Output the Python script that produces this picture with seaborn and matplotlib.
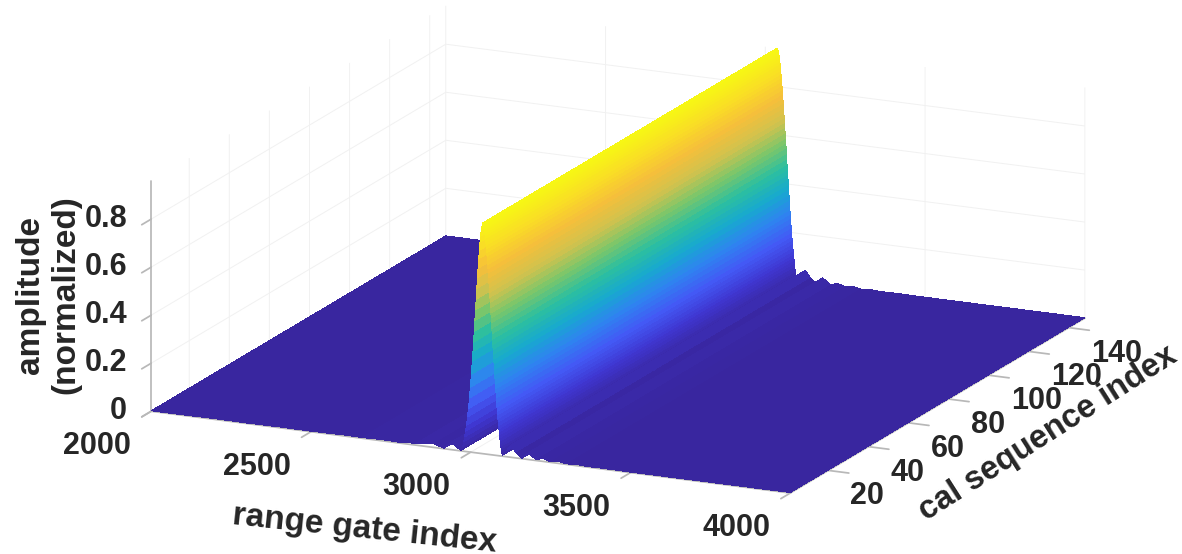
# =========================================
# Cal sequence range profile - 3D surface
# =========================================

import numpy as np
import matplotlib
matplotlib.use("Agg")
import matplotlib.pyplot as plt
from mpl_toolkits.mplot3d import proj3d
import seaborn as sns

# -----------------------------
# 1. Data
# -----------------------------
range_gates = [2000, 2100, 2200, 2300, 2400, 2500, 2600, 2660, 2720, 2780, 2830, 2885, 2916, 2938, 2969,
               2972, 2975, 2978, 2981, 2984, 2987, 2990, 2993, 2996, 2999, 3002, 3005, 3007, 3009, 3011,
               3013, 3015, 3017, 3019, 3021, 3023, 3025, 3027, 3029, 3031, 3033, 3035, 3037,
               3038, 3039, 3040, 3041, 3042, 3043, 3044, 3045, 3046, 3047, 3048, 3049, 3050, 3051,
               3052, 3053, 3054, 3055, 3056, 3057, 3058, 3059, 3060, 3061, 3062, 3063, 3064, 3065,
               3066, 3067, 3068, 3069, 3070, 3071, 3072, 3073, 3074, 3075, 3076, 3077, 3078, 3079,
               3080, 3081, 3082, 3083, 3084, 3085, 3086, 3087, 3088, 3089, 3090, 3091, 3092, 3093,
               3094, 3095, 3096, 3097, 3098, 3099, 3112, 3125, 3142, 3160, 3180, 3205, 3225, 3250,
               3275, 3300, 3330, 3360, 3400, 3500, 3600, 3800, 4000]
amplitude = [0.002, 0.002, 0.003, 0.002, 0.003, 0.002, 0.004, 0.003, 0.005, 0.003, 0.008, 0.015, 0.002, 0.03, 0.002,
             0.01, 0.02, 0.04, 0.06, 0.085, 0.11, 0.145, 0.18, 0.225, 0.27, 0.325, 0.38, 0.42, 0.46, 0.505,
             0.55, 0.595, 0.64, 0.685, 0.73, 0.77, 0.81, 0.845, 0.88, 0.905, 0.93, 0.945, 0.96,
             0.958, 0.955, 0.95, 0.945, 0.938, 0.93, 0.92, 0.91, 0.898, 0.885, 0.87, 0.855, 0.84, 0.825,
             0.808, 0.79, 0.773, 0.755, 0.735, 0.715, 0.695, 0.675, 0.655, 0.635, 0.612, 0.59, 0.57, 0.55,
             0.527, 0.505, 0.482, 0.46, 0.44, 0.42, 0.40, 0.38, 0.357, 0.335, 0.315, 0.295, 0.277, 0.26,
             0.24, 0.22, 0.202, 0.185, 0.17, 0.155, 0.14, 0.125, 0.112, 0.10, 0.087, 0.075, 0.062, 0.05,
             0.04, 0.03, 0.022, 0.015, 0.009, 0.004, 0.025, 0.05, 0.02, 0.002, 0.028, 0.002, 0.014, 0.002,
             0.008, 0.002, 0.005, 0.002, 0.003, 0.002, 0.002, 0.002, 0.002]
cal_sequence = [1, 14, 28, 42, 56, 70, 84, 98, 112, 126, 138, 148]

x_ticks = [2000, 2500, 3000, 3500, 4000]
y_ticks = [20, 40, 60, 80, 100, 120, 140]
z_ticks = [0, 0.2, 0.4, 0.6, 0.8]
z_tick_labels = ["0", "0.2", "0.4", "0.6", "0.8"]

surface_colors = ["#39269f", "#3f36d0", "#4359f5", "#2f83f0", "#17a9cf", "#2cbf9f",
                  "#7cc66a", "#d2c24d", "#f6bf3a", "#f9dd25", "#f7f714"]

# -----------------------------
# 2. Style
# -----------------------------
sns.set_theme(style="white")
plt.rcParams["font.family"] = ["Liberation Sans", "DejaVu Sans"]
plt.rcParams["font.weight"] = "bold"
text_color = "#262626"
line_color = "#b8b8b8"

surface_cmap = sns.blend_palette(surface_colors, n_colors=256, as_cmap=True)

# -----------------------------
# 3. Surface
# -----------------------------
X, Y = np.meshgrid(range_gates, cal_sequence)
Z = np.tile(amplitude, (len(cal_sequence), 1))

fig = plt.figure(figsize=(11.82, 5.54), dpi=100)
# axes is bigger than the figure so nothing gets clipped by its square box
side = 1300
ax = fig.add_axes([0.5080 - side / 1182 / 2, 0.5181 - side / 554 / 2, side / 1182, side / 554],
                  projection="3d", proj_type="ortho")
ax.view_init(elev=16, azim=-65.1)
ax.set_box_aspect((705, 700, 240), zoom=1.79 * 554 / side)

ax.plot_surface(X, Y, Z, cmap=surface_cmap, vmin=0, vmax=0.96, rcount=200, ccount=200,
                linewidth=0, antialiased=False)

ax.set_xlim(2000, 4000)
ax.set_ylim(1, 148)
ax.set_zlim(0, 0.96)
ax.set_xticks(x_ticks)
ax.set_yticks(y_ticks)
ax.set_zticks(z_ticks)
ax.set_xticklabels([])
ax.set_yticklabels([])
ax.set_zticklabels([])
ax.tick_params(color=line_color)

for axis in (ax.xaxis, ax.yaxis, ax.zaxis):
    axis.set_pane_color((1, 1, 1, 1))
    axis.pane.set_edgecolor("none")
    axis.line.set_color(line_color)
    axis._axinfo["grid"]["color"] = "#f1f1f1"
    axis._axinfo["grid"]["linewidth"] = 0.7
    axis._axinfo["tick"]["inward_factor"] = 0.4
    axis._axinfo["tick"]["outward_factor"] = 0.0
ax.zaxis.set_ticks_position("lower")

# -----------------------------
# 4. Tick labels (placed off the projected tick position)
# -----------------------------
proj = ax.get_proj()


def tick_label(x, y, z, text, dx, dy, ha):
    px, py, _ = proj3d.proj_transform(x, y, z, proj)
    ax.annotate(text, (px, py), xytext=(dx * 0.72, -dy * 0.72), textcoords="offset points",
                ha=ha, va="center", fontsize=22, color=text_color, annotation_clip=False)


for gate in x_ticks:
    tick_label(gate, 1, 0, str(gate), -54, 35, "center")
for seq in y_ticks:
    tick_label(4000, seq, 0, str(seq), 22, 26, "left")
for level, text in zip(z_ticks, z_tick_labels):
    tick_label(2000, 1, level, text, -24, 0, "right")

# -----------------------------
# 5. Labels
# -----------------------------
fig.text(48 / 1182, 1 - 295 / 554, "amplitude\n(normalized)", rotation=90, fontsize=24,
         color=text_color, ha="center", va="center", linespacing=1.2)
fig.text(365 / 1182, 1 - 529 / 554, "range gate index", rotation=-6, fontsize=24,
         color=text_color, ha="center", va="center")
fig.text(1048 / 1182, 1 - 434 / 554, "cal sequence index", rotation=32.5, fontsize=23.5,
         color=text_color, ha="center", va="center")

fig.savefig("out.png", dpi=100)
